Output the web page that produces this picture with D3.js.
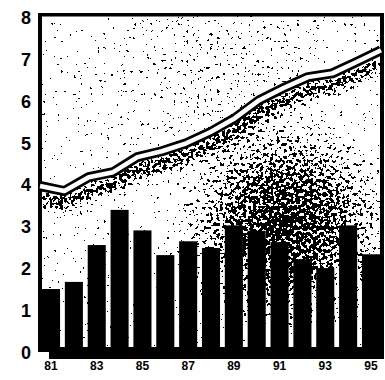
<!DOCTYPE html>
<html>
<head>
<meta charset="utf-8">
<script src="https://cdn.jsdelivr.net/npm/d3@7"></script>
<style>
  html, body { margin: 0; padding: 0; background: #fff; }
  svg { display: block; }
  .tick text { font-family: "Liberation Sans", Arial, sans-serif; font-weight: bold; fill: #000; }
</style>
</head>
<body>
<svg id="chart" width="385" height="380"></svg>
<script>
// ---- data ----
const years = ["81","82","83","84","85","86","87","88","89","90","91","92","93","94","95"];
const barValues = [1.48, 1.65, 2.53, 3.37, 2.88, 2.29, 2.62, 2.46, 3.0, 2.87, 2.6, 2.19, 1.98, 3.0, 2.31];
const lineValues = [3.94, 3.82, 4.15, 4.27, 4.63, 4.77, 4.96, 5.23, 5.56, 5.99, 6.28, 6.54, 6.63, 6.9, 7.18];
const yTicks = [0, 1, 2, 3, 4, 5, 6, 7, 8];
const xTickLabels = ["81","83","85","87","89","91","93","95"];

// ---- layout ----
const pL = 42, pR = 380, pT = 16, pB = 351;

const svg = d3.select("#chart");

const y = d3.scaleLinear().domain([0, 8]).range([pB, pT]);
const xBand = d3.scaleBand().domain(years).range([pL, pR]).paddingInner(0.21).paddingOuter(0);
const xLine = d3.scalePoint().domain(years).range([40, 381]).padding(0);

const defs = svg.append("defs");

// density gradients for the speckle texture
const rg = defs.append("radialGradient").attr("id", "cloud")
  .attr("gradientUnits", "userSpaceOnUse")
  .attr("cx", 285).attr("cy", 225).attr("r", 115);
rg.append("stop").attr("offset", "0%").attr("stop-color", "#fff").attr("stop-opacity", 0.85);
rg.append("stop").attr("offset", "45%").attr("stop-color", "#fff").attr("stop-opacity", 0.6);
rg.append("stop").attr("offset", "100%").attr("stop-color", "#fff").attr("stop-opacity", 0);

const rg2 = defs.append("radialGradient").attr("id", "cloud2")
  .attr("gradientUnits", "userSpaceOnUse")
  .attr("cx", 220).attr("cy", 70).attr("r", 130);
rg2.append("stop").attr("offset", "0%").attr("stop-color", "#fff").attr("stop-opacity", 0.14);
rg2.append("stop").attr("offset", "100%").attr("stop-color", "#fff").attr("stop-opacity", 0);

defs.append("filter").attr("id", "soft")
  .attr("x", "-20%").attr("y", "-20%").attr("width", "140%").attr("height", "140%")
  .append("feGaussianBlur").attr("stdDeviation", 5);

// speckle filter: noise + density -> threshold
const f = defs.append("filter").attr("id", "speckle")
  .attr("filterUnits", "userSpaceOnUse")
  .attr("x", pL).attr("y", pT).attr("width", pR - pL).attr("height", pB - pT)
  .attr("color-interpolation-filters", "sRGB");
f.append("feTurbulence").attr("type", "fractalNoise").attr("baseFrequency", 0.3)
  .attr("numOctaves", 2).attr("seed", 11).attr("result", "n");
f.append("feColorMatrix").attr("in", "n").attr("type", "matrix")
  .attr("values", "0 0 0 0 0  0 0 0 0 0  0 0 0 0 0  1 0 0 0 0").attr("result", "na");
f.append("feColorMatrix").attr("in", "SourceGraphic").attr("type", "matrix")
  .attr("values", "0 0 0 0 0  0 0 0 0 0  0 0 0 0 0  1 0 0 0 0").attr("result", "ga");
f.append("feComposite").attr("in", "na").attr("in2", "ga").attr("operator", "arithmetic")
  .attr("k1", 0).attr("k2", 1).attr("k3", 0.5).attr("k4", 0).attr("result", "sum");
f.append("feComponentTransfer").attr("in", "sum")
  .append("feFuncA").attr("type", "discrete")
  .attr("tableValues", "0 0 0 0 0 0 0 0 0 0 0 0 0 0 0 0 1 1 1 1");

// ---- speckle texture ----
const lineGen = d3.line()
  .x((d, i) => xLine(years[i]))
  .y(d => y(d));

const tex = svg.append("g").attr("filter", "url(#speckle)");
tex.append("rect").attr("x", pL).attr("y", pT).attr("width", pR - pL).attr("height", pB - pT)
  .attr("fill", "#161616");
tex.append("rect").attr("x", pL).attr("y", pT).attr("width", pR - pL).attr("height", pB - pT)
  .attr("fill", "url(#cloud2)");
tex.append("path").datum(lineValues)
  .attr("d", lineGen)
  .attr("transform", "translate(0,13)")
  .attr("fill", "none").attr("stroke", "#fff").attr("stroke-opacity", 0.68)
  .attr("stroke-width", 15).attr("filter", "url(#soft)");
tex.append("rect").attr("x", pL).attr("y", pT).attr("width", pR - pL).attr("height", pB - pT)
  .attr("fill", "url(#cloud)");

// ---- bars ----
svg.append("g").selectAll("rect").data(barValues).join("rect")
  .attr("x", (d, i) => xBand(years[i]))
  .attr("y", d => y(d))
  .attr("width", xBand.bandwidth())
  .attr("height", d => y(0) - y(d))
  .attr("fill", "#000");

// ---- frame ----
svg.append("rect").attr("x", 38).attr("y", 13).attr("width", 4).attr("height", pB - 13).attr("fill", "#000");
svg.append("rect").attr("x", 38).attr("y", 13).attr("width", 384 - 38).attr("height", 3.5).attr("fill", "#000");
svg.append("rect").attr("x", 380).attr("y", 13).attr("width", 4).attr("height", pB - 13).attr("fill", "#000");
svg.append("rect").attr("x", 38).attr("y", 347).attr("width", 384 - 38).attr("height", 5).attr("fill", "#000");
svg.append("rect").attr("x", 49).attr("y", 350).attr("width", 384 - 49).attr("height", 9).attr("fill", "#000");

// ---- line (white band with black outline) ----
svg.append("path").datum(lineValues)
  .attr("d", lineGen)
  .attr("fill", "none").attr("stroke", "#000").attr("stroke-width", 10)
  .attr("stroke-linejoin", "round");
svg.append("path").datum(lineValues)
  .attr("d", lineGen)
  .attr("fill", "none").attr("stroke", "#fff").attr("stroke-width", 4.5)
  .attr("stroke-linejoin", "round");

// ---- axes ----
const yAxis = d3.axisLeft(d3.scaleLinear().domain([0, 8]).range([352, 17]))
  .tickValues(yTicks).tickSize(0).tickPadding(0).tickFormat(d3.format("d"));
const gy = svg.append("g").attr("transform", "translate(31,0)").call(yAxis);
gy.select(".domain").remove();
gy.selectAll(".tick text").attr("font-size", 18).attr("dy", "0.36em");

const xAxis = d3.axisBottom(xBand).tickValues(xTickLabels).tickSize(0).tickPadding(0);
const gx = svg.append("g").attr("transform", "translate(0,361)").call(xAxis);
gx.select(".domain").remove();
gx.selectAll(".tick text").attr("font-size", 12).attr("dy", "0.71em");
</script>
</body>
</html>
